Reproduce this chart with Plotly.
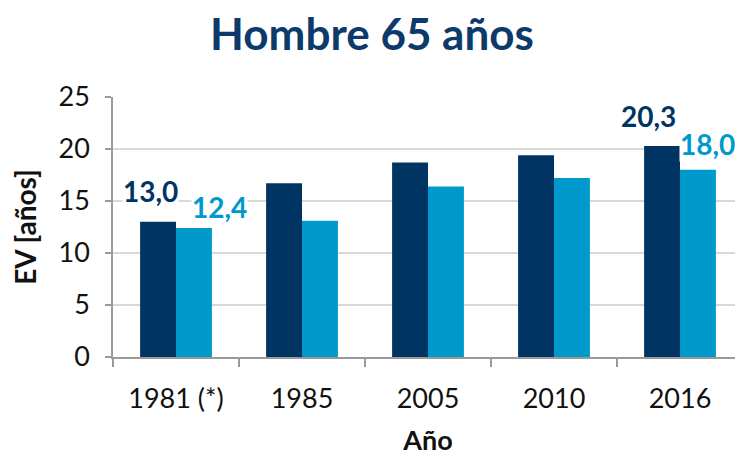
import plotly.graph_objects as go

years = ["1981 (*)", "1985", "2005", "2010", "2016"]
serie_a = [13.0, 16.7, 18.7, 19.4, 20.3]
serie_b = [12.4, 13.1, 16.4, 17.2, 18.0]
y_ticks = [0, 5, 10, 15, 20, 25]

DARK = "#003462"
LIGHT = "#0099cc"
FONT = "Lato, 'Open Sans', sans-serif"

# the page body adds an 8px offset, so the figure is 8px smaller on each axis
W, H = 735, 448

fig = go.Figure()
fig.add_trace(go.Bar(x=years, y=serie_a, marker=dict(color=DARK, line=dict(width=0)), name="A"))
fig.add_trace(go.Bar(x=years, y=serie_b, marker=dict(color=LIGHT, line=dict(width=0)), name="B"))

def fmt(v):
    return f"{v:.1f}".replace(".", ",")

# labels on first and last groups (x given as category index)
label_specs = [
    (0, serie_a, DARK, -26, 31),
    (0, serie_b, LIGHT, 43, 21),
    (4, serie_a, DARK, -32, 30),
    (4, serie_b, LIGHT, 27, 26),
]
for idx, series, col, xs, ys in label_specs:
    fig.add_annotation(x=idx, y=series[idx], text=f"<b>{fmt(series[idx])}</b>",
                       showarrow=False, xshift=xs, yshift=ys, yanchor="middle",
                       font=dict(family=FONT, size=28, color=col), bgcolor="white",
                       borderpad=0)

fig.update_layout(
    width=W, height=H, autosize=False,
    margin=dict(l=105, r=0, t=89, b=99),
    paper_bgcolor="white", plot_bgcolor="white",
    showlegend=False,
    barmode="group", bargap=0.43, bargroupgap=0,
    title=dict(text="<b>Hombre 65 años</b>", x=(372 - 8) / W, xanchor="center",
               y=1 - 27 / H, yanchor="middle",
               font=dict(family=FONT, size=44, color="#0b3a6b")),
    font=dict(family=FONT, color="#111111"),
)
fig.update_xaxes(
    type="category", range=[-0.5, 4.5], automargin=False,
    showline=True, linecolor="#9a9a9a", linewidth=1.5,
    ticks="outside", tickson="boundaries", ticklen=8, tickcolor="#9a9a9a", tickwidth=1.5,
    tickfont=dict(size=27, family=FONT, color="#111111"), tickangle=0,
    ticklabelstandoff=17,
    title=dict(text="<b>Año</b>", font=dict(size=27, family=FONT, color="#111111"), standoff=24),
    showgrid=False,
)
fig.update_yaxes(
    range=[0, 25], tickvals=y_ticks, automargin=False,
    showline=True, linecolor="#9a9a9a", linewidth=1.5,
    ticks="outside", ticklen=6, tickcolor="#9a9a9a", tickwidth=1.5,
    tickfont=dict(size=27, family=FONT, color="#111111"),
    showgrid=True, gridcolor="#d9d9d9", gridwidth=1.5, zeroline=False,
    title=dict(text="<b>EV [años]</b>", font=dict(size=28, family=FONT, color="#111111"), standoff=20),
    ticklabelstandoff=10,
)
fig.write_html("out.html")
